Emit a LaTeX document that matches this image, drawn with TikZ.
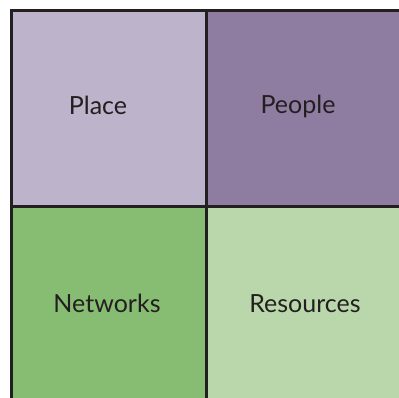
\documentclass[tikz,border=0pt]{standalone}
\usepackage{fontspec}
\setmainfont{Lato}
\definecolor{placeC}{HTML}{BDB3CB}
\definecolor{peopleC}{HTML}{8E7CA1}
\definecolor{netC}{HTML}{86BD72}
\definecolor{resC}{HTML}{BAD7AB}
\definecolor{inkC}{HTML}{231F20}
\tikzset{
  lbl/.style={anchor=base, inner sep=0pt, text=inkC, font=\fontsize{25}{30}\selectfont},
  rule/.style={draw=inkC, line width=3pt}
}
\begin{document}
\begin{tikzpicture}[x=1pt,y=-1pt]
\useasboundingbox (0,0) rectangle (399,398);
\fill[placeC] (11,11) rectangle (206.5,206.5);
\fill[peopleC] (206.5,11) rectangle (402,206.5);
\fill[netC] (11,206.5) rectangle (206.5,402);
\fill[resC] (206.5,206.5) rectangle (402,402);
\draw[rule] (11,9.5) -- (11,402);
\draw[rule] (9.5,11) -- (402,11);
\draw[rule] (206.5,11) -- (206.5,402);
\draw[rule] (11,206.5) -- (402,206.5);
\node[lbl] (place) at (98,114.5) {Place};
\node[lbl] (people) at (298,114) {People};
\node[lbl] (networks) at (107,312) {Networks};
\node[lbl] (resources) at (305,312) {Resources};
\end{tikzpicture}
\end{document}
